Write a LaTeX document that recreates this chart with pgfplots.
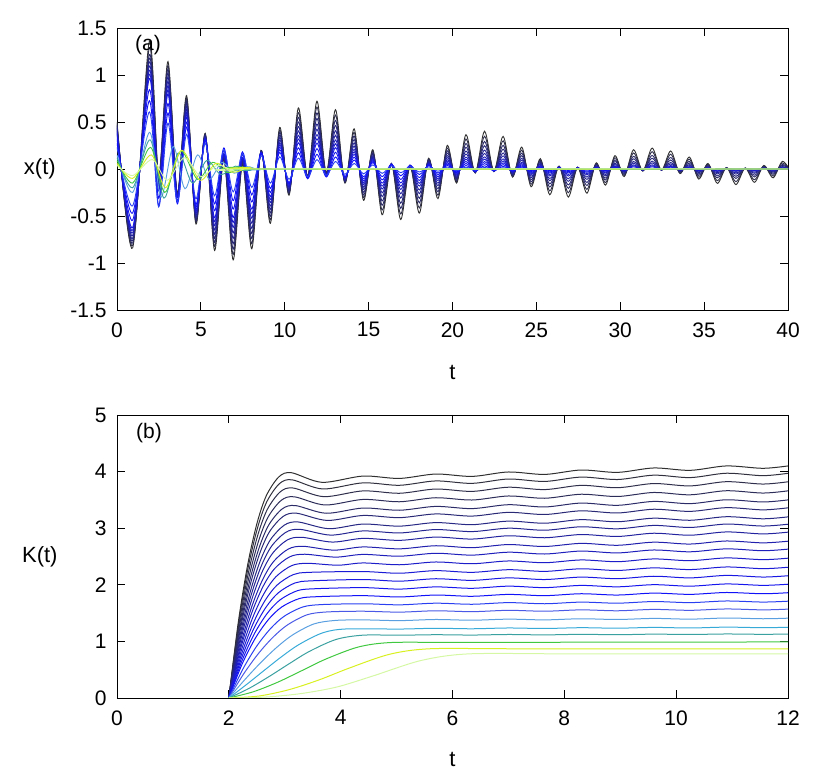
\documentclass[border=0pt]{standalone}
\usepackage{fontspec}
\setmainfont{Liberation Sans}
\usepackage{pgfplots}
\pgfplotsset{compat=1.18}

% palette, dark (large K) to light (small K)
\definecolor{cb0}{HTML}{303030}
\definecolor{cb1}{HTML}{30303E}
\definecolor{cb2}{HTML}{2F2F4C}
\definecolor{cb3}{HTML}{2D2D5A}
\definecolor{cb4}{HTML}{2B2B68}
\definecolor{cb5}{HTML}{292976}
\definecolor{cb6}{HTML}{272784}
\definecolor{cb7}{HTML}{252592}
\definecolor{cb8}{HTML}{2323A0}
\definecolor{cb9}{HTML}{2121AE}
\definecolor{cb10}{HTML}{1F1FBC}
\definecolor{cb11}{HTML}{1D1DCA}
\definecolor{cb12}{HTML}{1B1BD6}
\definecolor{cb13}{HTML}{1818E2}
\definecolor{cb14}{HTML}{1515EE}
\definecolor{cb15}{HTML}{1212F8}
\definecolor{cb16}{HTML}{2A40F0}
\definecolor{cb17}{HTML}{4A5AE6}
\definecolor{cb18}{HTML}{5AA0E0}
\definecolor{cb19}{HTML}{38AAD8}
\definecolor{cb20}{HTML}{3AA0A0}
\definecolor{cb21}{HTML}{40C840}
\definecolor{cb22}{HTML}{D8F020}
\definecolor{cb23}{HTML}{D4F8A4}

\pgfplotsset{
  gp/.style={
    scale only axis, width=671pt, anchor=south west,
    axis line style={line width=0.9pt},
    tick align=inside, major tick length=8pt,
    tick style={line width=0.9pt, black},
    tick label style={font=\fontsize{21}{25}\selectfont},
    label style={font=\fontsize{22}{26}\selectfont},
    yticklabel style={xshift=-7pt},
    xticklabel style={yshift=-9pt},
    ylabel style={at={(axis description cs:-0.115,0.5)}, rotate=-90, anchor=center},
    xlabel style={anchor=center},
  },
  xa/.style={smooth, line width=0.9pt},
}

\begin{document}
\begin{tikzpicture}
\path[use as bounding box] (0pt,0pt) rectangle (830pt,775pt);

% ---------------- panel (a) ----------------
\begin{axis}[gp, at={(117pt,465pt)}, height=282pt,
  xmin=0, xmax=40, ymin=-1.5, ymax=1.5,
  xtick={0,5,10,15,20,25,30,35,40}, xticklabels={0,5,10,15,20,25,30,35,40},
  ytick={-1.5,-1,-0.5,0,0.5,1,1.5}, yticklabels={-1.5,-1,-0.5,0,0.5,1,1.5},
  xlabel={t}, ylabel={x(t)},
  xlabel style={at={(axis description cs:0.5,-0.22)}},
]
\addplot[cb0, xa] coordinates {
(0,0.5) (0.93,-0.84)
(1.93,1.36) (2.485,-0.068) (3.04,1.143) (3.595,-0.259) (4.15,0.781) (4.705,-0.586) (5.26,0.380) (5.815,-0.867) (6.37,0.107) (6.925,-0.967)
(7.48,0.051) (8.035,-0.849) (8.59,0.198) (9.145,-0.578) (9.7,0.442) (10.255,-0.279) (10.81,0.650) (11.365,-0.077) (11.92,0.721) (12.475,-0.039)
(13.03,0.631) (13.585,-0.150) (14.14,0.427) (14.695,-0.333) (15.25,0.205) (15.805,-0.487) (16.36,0.056) (16.915,-0.538) (17.47,0.030) (18.025,-0.469)
(18.58,0.115) (19.135,-0.315) (19.69,0.251) (20.245,-0.150) (20.8,0.365) (21.355,-0.041) (21.91,0.402) (22.465,-0.023) (23.02,0.347) (23.575,-0.087)
(24.13,0.233) (24.685,-0.189) (25.24,0.110) (25.795,-0.274) (26.35,0.030) (26.905,-0.299) (27.46,0.017) (28.015,-0.258) (28.57,0.066) (29.125,-0.172)
(29.68,0.142) (30.235,-0.081) (30.79,0.205) (31.345,-0.022) (31.9,0.223) (32.455,-0.013) (33.01,0.192) (33.565,-0.050) (34.12,0.127) (34.675,-0.107)
(35.23,0.059) (35.785,-0.153) (36.34,0.016) (36.895,-0.166) (37.45,0.010) (38.005,-0.142) (38.56,0.038) (39.115,-0.094) (39.67,0.081) (40.225,-0.044)
};
\addplot[cb2, xa] coordinates {
(0,0.484) (0.93,-0.814)
(1.93,1.29) (2.485,-0.087) (3.04,1.102) (3.595,-0.265) (4.15,0.754) (4.705,-0.568) (5.26,0.373) (5.815,-0.824) (6.37,0.116) (6.925,-0.910)
(7.48,0.063) (8.035,-0.795) (8.59,0.196) (9.145,-0.541) (9.7,0.415) (10.255,-0.266) (10.81,0.600) (11.365,-0.082) (11.92,0.659) (12.475,-0.046)
(13.03,0.574) (13.585,-0.144) (14.14,0.389) (14.695,-0.304) (15.25,0.190) (15.805,-0.437) (16.36,0.058) (16.915,-0.479) (17.47,0.034) (18.025,-0.415)
(18.58,0.107) (19.135,-0.279) (19.69,0.223) (20.245,-0.135) (20.8,0.319) (21.355,-0.041) (21.91,0.348) (22.465,-0.025) (23.02,0.300) (23.575,-0.079)
(24.13,0.201) (24.685,-0.163) (25.24,0.097) (25.795,-0.233) (26.35,0.029) (26.905,-0.253) (27.46,0.018) (28.015,-0.217) (28.57,0.058) (29.125,-0.145)
(29.68,0.120) (30.235,-0.069) (30.79,0.170) (31.345,-0.021) (31.9,0.184) (32.455,-0.013) (33.01,0.157) (33.565,-0.043) (34.12,0.104) (34.675,-0.088)
(35.23,0.049) (35.785,-0.124) (36.34,0.015) (36.895,-0.134) (37.45,0.010) (38.005,-0.114) (38.56,0.032) (39.115,-0.076) (39.67,0.065) (40.225,-0.036)
};
\addplot[cb4, xa] coordinates {
(0,0.468) (0.93,-0.787)
(1.93,1.218) (2.485,-0.105) (3.04,1.061) (3.595,-0.270) (4.15,0.726) (4.705,-0.549) (5.26,0.366) (5.815,-0.781) (6.37,0.125) (6.925,-0.853)
(7.48,0.074) (8.035,-0.740) (8.59,0.193) (9.145,-0.504) (9.7,0.388) (10.255,-0.253) (10.81,0.550) (11.365,-0.086) (11.92,0.597) (12.475,-0.053)
(13.03,0.517) (13.585,-0.137) (14.14,0.350) (14.695,-0.275) (15.25,0.174) (15.805,-0.386) (16.36,0.059) (16.915,-0.419) (17.47,0.037) (18.025,-0.360)
(18.58,0.098) (19.135,-0.243) (19.69,0.194) (20.245,-0.120) (20.8,0.272) (21.355,-0.040) (21.91,0.293) (22.465,-0.027) (23.02,0.252) (23.575,-0.070)
(24.13,0.169) (24.685,-0.137) (25.24,0.083) (25.795,-0.192) (26.35,0.028) (26.905,-0.206) (27.46,0.019) (28.015,-0.175) (28.57,0.050) (29.125,-0.117)
(29.68,0.097) (30.235,-0.057) (30.79,0.135) (31.345,-0.019) (31.9,0.144) (32.455,-0.013) (33.01,0.122) (33.565,-0.035) (34.12,0.081) (34.675,-0.069)
(35.23,0.039) (35.785,-0.095) (36.34,0.013) (36.895,-0.101) (37.45,0.010) (38.005,-0.085) (38.56,0.025) (39.115,-0.057) (39.67,0.049) (40.225,-0.027)
};
\addplot[cb5, xa] coordinates {
(0,0.453) (0.93,-0.762)
(1.93,1.179) (2.485,-0.124) (3.04,1.021) (3.595,-0.275) (4.15,0.698) (4.705,-0.530) (5.26,0.358) (5.815,-0.738) (6.37,0.132) (6.925,-0.796)
(7.48,0.084) (8.035,-0.686) (8.59,0.189) (9.145,-0.467) (9.7,0.361) (10.255,-0.238) (10.81,0.501) (11.365,-0.088) (11.92,0.538) (12.475,-0.057)
(13.03,0.463) (13.585,-0.129) (14.14,0.314) (14.695,-0.247) (15.25,0.159) (15.805,-0.340) (16.36,0.058) (16.915,-0.365) (17.47,0.039) (18.025,-0.312)
(18.58,0.089) (19.135,-0.211) (19.69,0.169) (20.245,-0.106) (20.8,0.232) (21.355,-0.038) (21.91,0.247) (22.465,-0.027) (23.02,0.211) (23.575,-0.061)
(24.13,0.142) (24.685,-0.115) (25.24,0.071) (25.795,-0.158) (26.35,0.026) (26.905,-0.169) (27.46,0.018) (28.015,-0.143) (28.57,0.042) (29.125,-0.096)
(29.68,0.079) (30.235,-0.047) (30.79,0.108) (31.345,-0.017) (31.9,0.114) (32.455,-0.012) (33.01,0.096) (33.565,-0.029) (34.12,0.064) (34.675,-0.055)
(35.23,0.032) (35.785,-0.074) (36.34,0.011) (36.895,-0.078) (37.45,0.009) (38.005,-0.066) (38.56,0.020) (39.115,-0.044) (39.67,0.038) (40.225,-0.021)
};
\addplot[cb7, xa] coordinates {
(0,0.438) (0.93,-0.737)
(1.93,1.140) (2.485,-0.142) (3.04,0.980) (3.595,-0.279) (4.15,0.670) (4.705,-0.510) (5.26,0.349) (5.815,-0.694) (6.37,0.139) (6.925,-0.739)
(7.48,0.093) (8.035,-0.632) (8.59,0.184) (9.145,-0.430) (9.7,0.334) (10.255,-0.223) (10.81,0.452) (11.365,-0.089) (11.92,0.479) (12.475,-0.060)
(13.03,0.408) (13.585,-0.121) (14.14,0.277) (14.695,-0.218) (15.25,0.143) (15.805,-0.294) (16.36,0.057) (16.915,-0.310) (17.47,0.040) (18.025,-0.263)
(18.58,0.080) (19.135,-0.178) (19.69,0.143) (20.245,-0.091) (20.8,0.191) (21.355,-0.036) (21.91,0.201) (22.465,-0.026) (23.02,0.170) (23.575,-0.052)
(24.13,0.114) (24.685,-0.093) (25.24,0.059) (25.795,-0.124) (26.35,0.023) (26.905,-0.131) (27.46,0.017) (28.015,-0.110) (28.57,0.034) (29.125,-0.074)
(29.68,0.061) (30.235,-0.037) (30.79,0.081) (31.345,-0.015) (31.9,0.084) (32.455,-0.011) (33.01,0.070) (33.565,-0.022) (34.12,0.047) (34.675,-0.040)
(35.23,0.024) (35.785,-0.053) (36.34,0.009) (36.895,-0.055) (37.45,0.007) (38.005,-0.046) (38.56,0.015) (39.115,-0.031) (39.67,0.026) (40.225,-0.015)
};
\addplot[cb8, xa] coordinates {
(0,0.421) (0.93,-0.708)
(1.93,1.096) (2.485,-0.165) (3.04,0.934) (3.595,-0.286) (4.15,0.639) (4.705,-0.490) (5.26,0.341) (5.815,-0.649) (6.37,0.147) (6.925,-0.681)
(7.48,0.102) (8.035,-0.578) (8.59,0.180) (9.145,-0.394) (9.7,0.307) (10.255,-0.209) (10.81,0.405) (11.365,-0.090) (11.92,0.424) (12.475,-0.063)
(13.03,0.359) (13.585,-0.113) (14.14,0.244) (14.695,-0.193) (15.25,0.129) (15.805,-0.254) (16.36,0.055) (16.915,-0.264) (17.47,0.040) (18.025,-0.223)
(18.58,0.072) (19.135,-0.151) (19.69,0.121) (20.245,-0.079) (20.8,0.159) (21.355,-0.034) (21.91,0.165) (22.465,-0.025) (23.02,0.139) (23.575,-0.045)
(24.13,0.093) (24.685,-0.076) (25.24,0.049) (25.795,-0.100) (26.35,0.021) (26.905,-0.104) (27.46,0.016) (28.015,-0.087) (28.57,0.028) (29.125,-0.059)
(29.68,0.048) (30.235,-0.030) (30.79,0.063) (31.345,-0.013) (31.9,0.065) (32.455,-0.010) (33.01,0.054) (33.565,-0.018) (34.12,0.036) (34.675,-0.031)
(35.23,0.019) (35.785,-0.040) (36.34,0.008) (36.895,-0.041) (37.45,0.006) (38.005,-0.034) (38.56,0.012) (39.115,-0.023) (39.67,0.020) (40.225,-0.012)
};
\addplot[cb10, xa] coordinates {
(0,0.404) (0.93,-0.679)
(1.93,1.051) (2.485,-0.187) (3.04,0.888) (3.595,-0.292) (4.15,0.608) (4.705,-0.470) (5.26,0.332) (5.815,-0.603) (6.37,0.154) (6.925,-0.622)
(7.48,0.111) (8.035,-0.524) (8.59,0.175) (9.145,-0.357) (9.7,0.280) (10.255,-0.194) (10.81,0.358) (11.365,-0.090) (11.92,0.368) (12.475,-0.066)
(13.03,0.309) (13.585,-0.105) (14.14,0.210) (14.695,-0.167) (15.25,0.114) (15.805,-0.213) (16.36,0.053) (16.915,-0.218) (17.47,0.039) (18.025,-0.182)
(18.58,0.063) (19.135,-0.123) (19.69,0.099) (20.245,-0.067) (20.8,0.126) (21.355,-0.031) (21.91,0.129) (22.465,-0.023) (23.02,0.107) (23.575,-0.037)
(24.13,0.072) (24.685,-0.059) (25.24,0.039) (25.795,-0.075) (26.35,0.018) (26.905,-0.076) (27.46,0.014) (28.015,-0.063) (28.57,0.022) (29.125,-0.043)
(29.68,0.035) (30.235,-0.023) (30.79,0.044) (31.345,-0.011) (31.9,0.045) (32.455,-0.008) (33.01,0.037) (33.565,-0.013) (34.12,0.025) (34.675,-0.021)
(35.23,0.013) (35.785,-0.027) (36.34,0.006) (36.895,-0.026) (37.45,0.005) (38.005,-0.022) (38.56,0.008) (39.115,-0.015) (39.67,0.013) (40.225,-0.008)
};
\addplot[cb11, xa] coordinates {
(0,0.388) (0.93,-0.651)
(1.93,1.008) (2.485,-0.209) (3.04,0.844) (3.595,-0.298) (4.15,0.579) (4.705,-0.451) (5.26,0.324) (5.815,-0.561) (6.37,0.160) (6.925,-0.569)
(7.48,0.118) (8.035,-0.476) (8.59,0.170) (9.145,-0.325) (9.7,0.257) (10.255,-0.181) (10.81,0.319) (11.365,-0.089) (11.92,0.322) (12.475,-0.067)
(13.03,0.269) (13.585,-0.097) (14.14,0.183) (14.695,-0.147) (15.25,0.102) (15.805,-0.182) (16.36,0.050) (16.915,-0.183) (17.47,0.038) (18.025,-0.152)
(18.58,0.056) (19.135,-0.103) (19.69,0.084) (20.245,-0.057) (20.8,0.103) (21.355,-0.028) (21.91,0.104) (22.465,-0.021) (23.02,0.086) (23.575,-0.032)
(24.13,0.058) (24.685,-0.048) (25.24,0.032) (25.795,-0.059) (26.35,0.016) (26.905,-0.059) (27.46,0.012) (28.015,-0.049) (28.57,0.018) (29.125,-0.034)
(29.68,0.027) (30.235,-0.018) (30.79,0.034) (31.345,-0.009) (31.9,0.034) (32.455,-0.007) (33.01,0.028) (33.565,-0.010) (34.12,0.019) (34.675,-0.016)
(35.23,0.010) (35.785,-0.020) (36.34,0.005) (36.895,-0.019) (37.45,0.004) (38.005,-0.016) (38.56,0.006) (39.115,-0.011) (39.67,0.010) (40.225,-0.006)
};
\addplot[cb13, xa] coordinates {
(0,0.371) (0.93,-0.623)
(1.93,0.964) (2.485,-0.231) (3.04,0.800) (3.595,-0.304) (4.15,0.550) (4.705,-0.431) (5.26,0.315) (5.815,-0.519) (6.37,0.165) (6.925,-0.516)
(7.48,0.124) (8.035,-0.427) (8.59,0.164) (9.145,-0.293) (9.7,0.233) (10.255,-0.167) (10.81,0.279) (11.365,-0.088) (11.92,0.276) (12.475,-0.067)
(13.03,0.228) (13.585,-0.089) (14.14,0.156) (14.695,-0.126) (15.25,0.089) (15.805,-0.150) (16.36,0.047) (16.915,-0.148) (17.47,0.036) (18.025,-0.122)
(18.58,0.048) (19.135,-0.083) (19.69,0.068) (20.245,-0.047) (20.8,0.080) (21.355,-0.025) (21.91,0.079) (22.465,-0.019) (23.02,0.065) (23.575,-0.026)
(24.13,0.044) (24.685,-0.037) (25.24,0.025) (25.795,-0.043) (26.35,0.013) (26.905,-0.042) (27.46,0.010) (28.015,-0.035) (28.57,0.014) (29.125,-0.024)
(29.68,0.019) (30.235,-0.013) (30.79,0.023) (31.345,-0.007) (31.9,0.023) (32.455,-0.006) (33.01,0.019) (33.565,-0.007) (34.12,0.012) (34.675,-0.011)
(35.23,0.007) (35.785,-0.013) (36.34,0.004) (36.895,-0.012) (37.45,0.003) (38.005,-0.010) (38.56,0.004) (39.115,-0.007) (39.67,0.006) (40.225,-0.004)
};
\addplot[cb14, xa] coordinates {
(0,0.325) (0.93,-0.546)
(1.93,0.845) (2.485,-0.312) (3.04,0.698) (3.595,-0.338) (4.15,0.498) (4.705,-0.405) (5.26,0.314) (5.815,-0.445) (6.37,0.195) (6.925,-0.427)
(7.48,0.153) (8.035,-0.352) (8.59,0.169) (9.145,-0.250) (9.7,0.205) (10.255,-0.156) (10.81,0.226) (11.365,-0.096) (11.92,0.216) (12.475,-0.076)
(13.03,0.178) (13.585,-0.085) (14.14,0.126) (14.695,-0.104) (15.25,0.078) (15.805,-0.116) (16.36,0.048) (16.915,-0.111) (17.47,0.038) (18.025,-0.091)
(18.58,0.043) (19.135,-0.064) (19.69,0.053) (20.245,-0.039) (20.8,0.059) (21.355,-0.024) (21.91,0.057) (22.465,-0.019) (23.02,0.046) (23.575,-0.022)
(24.13,0.032) (24.685,-0.027) (25.24,0.020) (25.795,-0.031) (26.35,0.012) (26.905,-0.029) (27.46,0.009) (28.015,-0.024) (28.57,0.011) (29.125,-0.017)
(29.68,0.014) (30.8,0) (40.5,0)
};
\addplot[cb15, xa] coordinates {
(0,0.279) (0.93,-0.469)
(1.93,0.726) (2.485,-0.392) (3.04,0.596) (3.595,-0.371) (4.15,0.445) (4.705,-0.378) (5.26,0.313) (5.815,-0.371) (6.37,0.224) (6.925,-0.337)
(7.48,0.182) (8.035,-0.276) (8.59,0.173) (9.145,-0.206) (9.7,0.176) (10.255,-0.145) (10.81,0.173) (11.365,-0.104) (11.92,0.156) (12.475,-0.085)
(13.03,0.128) (13.585,-0.080) (14.14,0.095) (14.695,-0.082) (15.25,0.067) (15.805,-0.081) (16.36,0.048) (16.915,-0.073) (17.47,0.039) (18.025,-0.059)
(18.58,0.037) (19.135,-0.044) (19.69,0.038) (20.245,-0.031) (20.8,0.037) (21.355,-0.022) (21.91,0.034) (22.465,-0.018) (23.02,0.027) (23.575,-0.017)
(24.13,0.020) (24.685,-0.017) (25.24,0.014) (25.795,-0.018) (26.35,0.010) (26.905,-0.016) (27.46,0.008) (28.015,-0.012) (28.57,0.008) (29.125,-0.009)
(29.68,0.008) (30.8,0) (40.5,0)
};
\addplot[cb16, xa] coordinates {
(0,0.233) (0.93,-0.392)
(1.93,0.607) (2.485,-0.404) (3.04,0.488) (3.595,-0.351) (4.15,0.370) (4.705,-0.319) (5.26,0.272) (5.815,-0.286) (6.37,0.203) (6.925,-0.244)
(7.48,0.163) (8.035,-0.196) (8.59,0.142) (9.145,-0.149) (9.7,0.129) (10.255,-0.109) (10.81,0.116) (11.365,-0.082) (11.92,0.099) (12.475,-0.066)
(13.03,0.079) (13.585,-0.057) (14.14,0.060) (14.695,-0.052) (15.25,0.044) (15.805,-0.046) (16.36,0.033) (16.915,-0.040) (17.47,0.027) (18.025,-0.032)
(18.58,0.023) (19.135,-0.024) (19.69,0.021) (20.245,-0.018) (20.8,0.019) (21.355,-0.013) (21.91,0.016) (22.465,-0.011) (23.02,0.013) (23.575,-0.009)
(24.13,0.010) (25.0,0) (40.5,0)
};
\addplot[cb18, xa] coordinates {
(0,0.15) (0.93,-0.25) (1.95,0.39) (2.62,-0.30) (3.35,0.24) (4.05,-0.21) (4.8,0.15) (5.5,-0.11) (6.25,0.07) (7.0,-0.045) (7.75,0.025) (8.5,-0.01) (9.5,0) (40.5,0)
};
\addplot[cb20, xa] coordinates {
(0,0.12) (0.93,-0.20) (1.97,0.31) (2.8,-0.31) (3.65,0.17) (4.5,-0.15) (5.35,0.09) (6.2,-0.06) (7.05,0.03) (7.9,-0.015) (9,0) (40.5,0)
};
\addplot[cb21, xa] coordinates {
(0,0.09) (0.93,-0.15) (2.0,0.23) (2.85,-0.25) (3.8,0.19) (4.8,-0.11) (5.7,0.07) (6.6,-0.04) (7.5,0.02) (8.6,0) (40.5,0)
};
\addplot[cb22, xa] coordinates {
(0,0.06) (0.93,-0.10) (2.05,0.15) (2.9,-0.20) (3.85,0.20) (4.95,-0.12) (5.9,0.06) (6.9,-0.035) (7.9,0.015) (9,0) (40.5,0)
};
\addplot[cb23, xa] coordinates {
(0,0.04) (0.93,-0.07) (2.1,0.10) (3.0,-0.12) (4.0,0.12) (5.0,-0.08) (6.0,0.04) (7.0,-0.02) (8.2,0) (40.5,0)
};
\end{axis}
\node[font=\fontsize{21}{25}\selectfont] at (148pt,730pt) {(a)};

% ---------------- panel (b) ----------------
\begin{axis}[gp, at={(117pt,77pt)}, height=283pt,
  xmin=0, xmax=12, ymin=0, ymax=5,
  xtick={0,2,4,6,8,10,12}, xticklabels={0,2,4,6,8,10,12},
  ytick={0,1,2,3,4,5}, yticklabels={0,1,2,3,4,5},
  xlabel={t}, ylabel={K(t)},
  xlabel style={at={(axis description cs:0.5,-0.219)}},
]
\addplot[cb0, smooth, line width=1pt] coordinates {(2,0) (2.168,1.329) (2.336,2.348) (2.504,3.088) (2.672,3.578) (2.896,3.908) (3.12,3.98) (3.67,3.81) (4.4,3.921) (5.05,3.879) (5.7,3.957) (6.35,3.915) (7.0,3.993) (7.65,3.950) (8.3,4.028) (8.95,3.986) (9.6,4.064) (10.25,4.022) (10.9,4.100) (11.55,4.058) (12,4.10)};
\addplot[cb1, smooth, line width=1pt] coordinates {(2,0) (2.17,1.288) (2.339,2.274) (2.509,2.991) (2.678,3.466) (2.904,3.786) (3.13,3.855) (3.68,3.693) (4.4,3.801) (5.05,3.758) (5.7,3.835) (6.35,3.792) (7.0,3.869) (7.65,3.826) (8.3,3.903) (8.95,3.860) (9.6,3.937) (10.25,3.894) (10.9,3.971) (11.55,3.928) (12,3.97)};
\addplot[cb2, smooth, line width=1pt] coordinates {(2,0) (2.173,1.239) (2.345,2.189) (2.518,2.879) (2.69,3.335) (2.92,3.643) (3.15,3.71) (3.70,3.557) (4.4,3.659) (5.05,3.617) (5.7,3.692) (6.35,3.650) (7.0,3.724) (7.65,3.682) (8.3,3.757) (8.95,3.715) (9.6,3.789) (10.25,3.747) (10.9,3.822) (11.55,3.780) (12,3.82)};
\addplot[cb3, smooth, line width=1pt] coordinates {(2,0) (2.176,1.187) (2.351,2.097) (2.527,2.759) (2.702,3.196) (2.936,3.491) (3.17,3.555) (3.72,3.41) (4.4,3.508) (5.05,3.467) (5.7,3.538) (6.35,3.498) (7.0,3.569) (7.65,3.529) (8.3,3.600) (8.95,3.560) (9.6,3.631) (10.25,3.590) (10.9,3.662) (11.55,3.621) (12,3.66)};
\addplot[cb4, smooth, line width=1pt] coordinates {(2,0) (2.179,1.136) (2.357,2.006) (2.536,2.638) (2.714,3.057) (2.952,3.339) (3.19,3.40) (3.74,3.264) (4.4,3.356) (5.05,3.317) (5.7,3.385) (6.35,3.346) (7.0,3.415) (7.65,3.375) (8.3,3.444) (8.95,3.404) (9.6,3.473) (10.25,3.434) (10.9,3.502) (11.55,3.463) (12,3.50)};
\addplot[cb5, smooth, line width=1pt] coordinates {(2,0) (2.182,1.091) (2.363,1.926) (2.545,2.534) (2.726,2.935) (2.968,3.206) (3.21,3.265) (3.76,3.137) (4.4,3.225) (5.05,3.186) (5.7,3.252) (6.35,3.214) (7.0,3.280) (7.65,3.242) (8.3,3.307) (8.95,3.269) (9.6,3.335) (10.25,3.297) (10.9,3.363) (11.55,3.324) (12,3.36)};
\addplot[cb6, smooth, line width=1pt] coordinates {(2,0) (2.186,1.039) (2.372,1.835) (2.558,2.413) (2.744,2.796) (2.992,3.054) (3.24,3.11) (3.79,2.991) (4.4,3.073) (5.05,3.036) (5.7,3.099) (6.35,3.062) (7.0,3.125) (7.65,3.088) (8.3,3.151) (8.95,3.114) (9.6,3.177) (10.25,3.140) (10.9,3.203) (11.55,3.166) (12,3.20)};
\addplot[cb7, smooth, line width=1pt] coordinates {(2,0) (2.191,0.995) (2.381,1.758) (2.572,2.312) (2.762,2.679) (3.016,2.926) (3.27,2.98) (3.82,2.878) (4.4,2.952) (5.05,2.916) (5.7,2.976) (6.35,2.940) (7.0,3.000) (7.65,2.964) (8.3,3.025) (8.95,2.989) (9.6,3.049) (10.25,3.013) (10.9,3.073) (11.55,3.038) (12,3.07)};
\addplot[cb8, smooth, line width=1pt] coordinates {(2,0) (2.195,0.949) (2.39,1.676) (2.585,2.204) (2.78,2.553) (3.04,2.789) (3.30,2.84) (3.85,2.755) (4.4,2.820) (5.05,2.785) (5.7,2.843) (6.35,2.808) (7.0,2.866) (7.65,2.831) (8.3,2.888) (8.95,2.854) (9.6,2.911) (10.25,2.876) (10.9,2.934) (11.55,2.899) (12,2.93)};
\addplot[cb9, smooth, line width=1pt] coordinates {(2,0) (2.20,0.895) (2.399,1.581) (2.599,2.080) (2.798,2.409) (3.064,2.632) (3.33,2.68) (3.88,2.612) (4.4,2.669) (5.05,2.635) (5.7,2.690) (6.35,2.656) (7.0,2.711) (7.65,2.677) (8.3,2.732) (8.95,2.698) (9.6,2.753) (10.25,2.720) (10.9,2.774) (11.55,2.741) (12,2.77)};
\addplot[cb10, smooth, line width=1pt] coordinates {(2,0) (2.204,0.848) (2.408,1.499) (2.612,1.971) (2.816,2.283) (3.088,2.494) (3.36,2.54) (3.91,2.489) (4.4,2.537) (5.05,2.505) (5.7,2.557) (6.35,2.524) (7.0,2.576) (7.65,2.544) (8.3,2.596) (8.95,2.563) (9.6,2.615) (10.25,2.583) (10.9,2.635) (11.55,2.602) (12,2.63)};
\addplot[cb11, smooth, line width=1pt] coordinates {(2,0) (2.21,0.795) (2.42,1.404) (2.63,1.847) (2.84,2.140) (3.12,2.337) (3.40,2.38) (3.95,2.346) (4.4,2.386) (5.05,2.354) (5.7,2.403) (6.35,2.372) (7.0,2.421) (7.65,2.390) (8.3,2.439) (8.95,2.408) (9.6,2.457) (10.25,2.426) (10.9,2.475) (11.55,2.444) (12,2.47)};
\addplot[cb12, smooth, line width=1pt] coordinates {(2,0) (2.216,0.741) (2.432,1.310) (2.648,1.723) (2.864,1.996) (3.152,2.180) (3.44,2.22) (4.4,2.234) (5.05,2.204) (5.7,2.250) (6.35,2.220) (7.0,2.267) (7.65,2.237) (8.3,2.283) (8.95,2.253) (9.6,2.299) (10.25,2.269) (10.9,2.315) (11.55,2.285) (12,2.31)};
\addplot[cb13, smooth, line width=1pt] coordinates {(2,0) (2.222,0.691) (2.444,1.221) (2.666,1.606) (2.888,1.861) (3.184,2.033) (3.48,2.07) (4.4,2.093) (5.05,2.064) (5.7,2.107) (6.35,2.078) (7.0,2.122) (7.65,2.093) (8.3,2.136) (8.95,2.108) (9.6,2.151) (10.25,2.122) (10.9,2.166) (11.55,2.137) (12,2.16)};
\addplot[cb14, smooth, line width=1pt] coordinates {(2,0) (2.23,0.645) (2.459,1.139) (2.689,1.498) (2.918,1.735) (3.224,1.895) (3.53,1.93) (4.4,1.950) (5.05,1.924) (5.7,1.963) (6.35,1.938) (7.0,1.976) (7.65,1.950) (8.3,1.989) (8.95,1.964) (9.6,2.002) (10.25,1.976) (10.9,2.015) (11.55,1.990) (12,2.01)};
\addplot[cb15, smooth, line width=1pt] coordinates {(2,0) (2.237,0.598) (2.474,1.056) (2.711,1.389) (2.948,1.609) (3.264,1.758) (3.58,1.79) (4.4,1.808) (5.05,1.785) (5.7,1.819) (6.35,1.797) (7.0,1.830) (7.65,1.808) (8.3,1.842) (8.95,1.819) (9.6,1.853) (10.25,1.831) (10.9,1.864) (11.55,1.842) (12,1.86)};
\addplot[cb16, smooth, line width=1pt] coordinates {(2,0) (2.248,0.505) (2.495,0.911) (2.743,1.223) (2.99,1.444) (3.32,1.607) (3.65,1.65) (4.4,1.665) (5.05,1.646) (5.7,1.675) (6.35,1.656) (7.0,1.685) (7.65,1.665) (8.3,1.694) (8.95,1.675) (9.6,1.704) (10.25,1.685) (10.9,1.714) (11.55,1.695) (12,1.71)};
\addplot[cb17, smooth, line width=1pt] coordinates {(2,0) (2.263,0.423) (2.525,0.780) (2.788,1.072) (3.05,1.292) (3.40,1.470) (3.75,1.52) (4.4,1.533) (5.05,1.517) (5.7,1.541) (6.35,1.525) (7.0,1.549) (7.65,1.533) (8.3,1.557) (8.95,1.541) (9.6,1.565) (10.25,1.549) (10.9,1.573) (11.55,1.557) (12,1.57)};
\addplot[cb18, smooth, line width=1pt] coordinates {(2,0) (2.285,0.323) (2.57,0.625) (2.855,0.893) (3.14,1.114) (3.52,1.308) (3.9,1.37) (4.4,1.380) (5.05,1.367) (5.7,1.387) (6.35,1.374) (7.0,1.393) (7.65,1.380) (8.3,1.400) (8.95,1.387) (9.6,1.406) (10.25,1.393) (10.9,1.413) (11.55,1.400) (12,1.41)};
\addplot[cb19, smooth, line width=1pt] coordinates {(2,0) (2.315,0.237) (2.63,0.486) (2.945,0.731) (3.26,0.948) (3.68,1.152) (4.1,1.22) (5.05,1.218) (5.7,1.232) (6.35,1.223) (7.0,1.237) (7.65,1.228) (8.3,1.242) (8.95,1.233) (9.6,1.247) (10.25,1.237) (10.9,1.252) (11.55,1.242) (12,1.25)};
\addplot[cb20, smooth, line width=1pt] coordinates {(2,0) (2.36,0.169) (2.72,0.379) (3.08,0.606) (3.44,0.823) (3.92,1.035) (4.4,1.11) (5.05,1.109) (5.7,1.118) (6.35,1.112) (7.0,1.122) (7.65,1.115) (8.3,1.125) (8.95,1.118) (9.6,1.128) (10.25,1.122) (10.9,1.131) (11.55,1.125) (12,1.13)};
\addplot[cb21, smooth, line width=1pt] coordinates {(2,0) (2.435,0.109) (2.87,0.277) (3.305,0.483) (3.74,0.690) (4.32,0.902) (4.9,0.98) (6,0.982) (8,0.985) (10,0.988) (12,0.99)};
\addplot[cb22, smooth, line width=1pt] coordinates {(2,0) (2.54,0.035) (3.08,0.148) (3.62,0.322) (4.16,0.531) (4.88,0.774) (5.6,0.87) (7,0.87) (9.5,0.87) (12,0.87)};
\addplot[cb23, smooth, line width=1pt] coordinates {(2,0) (2.645,0.016) (3.29,0.078) (3.935,0.195) (4.58,0.39) (5.44,0.663) (6.3,0.78) (8,0.78) (10,0.78) (12,0.78)};
\end{axis}
\node[font=\fontsize{21}{25}\selectfont] at (149pt,342pt) {(b)};
\end{tikzpicture}
\end{document}
